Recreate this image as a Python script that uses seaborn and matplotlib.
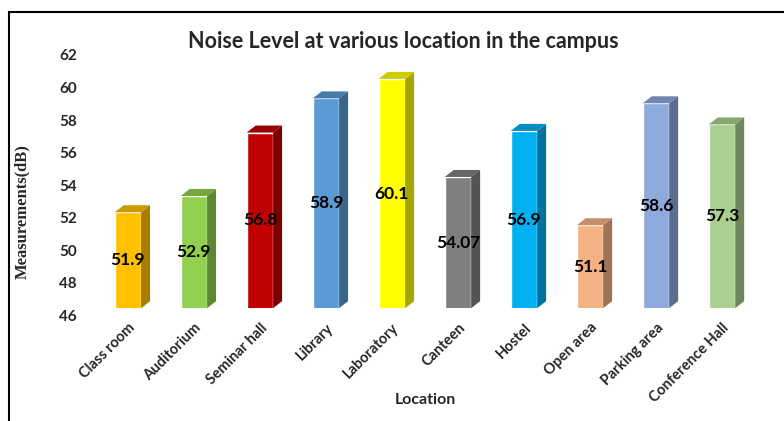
import matplotlib
matplotlib.use("Agg")
import matplotlib.pyplot as plt
import matplotlib.transforms as mtransforms
from matplotlib.patches import Polygon, Rectangle
from matplotlib.colors import to_rgb
import seaborn as sns
import pandas as pd

# data
locations = ['Class room', 'Auditorium', 'Seminar hall', 'Library', 'Laboratory',
             'Canteen', 'Hostel', 'Open area', 'Parking area', 'Conference Hall']
noise_db = [51.9, 52.9, 56.8, 58.9, 60.1, 54.07, 56.9, 51.1, 58.6, 57.3]
value_labels = ['51.9', '52.9', '56.8', '58.9', '60.1', '54.07', '56.9', '51.1', '58.6', '57.3']
bar_colors = ['#FFC000', '#92D050', '#C00000', '#5B9BD5', '#FFFF00',
              '#7F7F7F', '#00B0F0', '#F4B183', '#8EA9DB', '#A9D08E']
y_ticks = [46, 48, 50, 52, 54, 56, 58, 60, 62]

df = pd.DataFrame({'Location': locations, 'Noise': noise_db})

sns.set_style('white')
plt.rcParams['font.family'] = ['Lato', 'DejaVu Sans']

fig = plt.figure(figsize=(7.84, 4.21), dpi=100)
ax = fig.add_axes([0.121, 0.268, 0.842, 0.618])

sns.barplot(data=df, x='Location', y='Noise', hue='Location',
            palette=dict(zip(locations, bar_colors)), saturation=1,
            width=0.4, legend=False, ax=ax)

ax.set_ylim(46, 62)
ax.set_xlim(-0.5, 9.5)
y0 = ax.get_ylim()[0]


def shade(c, f):
    r, g, b = to_rgb(c)
    return (r * f, g * f, b * f)


# fake Excel-style 3D depth: side and top faces
dx, dy = 0.136, 0.43
for bar in ax.patches:
    x0 = bar.get_x()
    x1 = x0 + bar.get_width()
    v = bar.get_height()
    col = bar.get_facecolor()
    side = Polygon([(x1, y0), (x1, v), (x1 + dx, v + dy), (x1 + dx, y0 + dy)],
                   closed=True, facecolor=shade(col, 0.65), edgecolor='none')
    top = Polygon([(x0, v), (x1, v), (x1 + dx, v + dy), (x0 + dx, v + dy)],
                  closed=True, facecolor=shade(col, 0.8), edgecolor='none')
    ax.add_patch(side)
    ax.add_patch(top)

# value labels in the middle of each bar
for i, (v, txt) in enumerate(zip(noise_db, value_labels)):
    ax.text(i, (y0 + v) / 2, txt, ha='center', va='center',
            fontsize=12.5, fontweight='bold', color='black')

sns.despine(ax=ax, left=True, bottom=True)
ax.set_yticks(y_ticks)
ax.set_yticklabels([str(t) for t in y_ticks], fontsize=11, fontweight='bold')
ax.tick_params(axis='y', length=0, pad=13)
ax.tick_params(axis='x', length=0, pad=9)
ax.set_xticks(range(len(locations)))
ax.set_xticklabels(locations, rotation=45, ha='right', rotation_mode='anchor',
                   fontsize=10.5, fontweight='bold')

# Excel draws the floor a little below the bars
shift = mtransforms.ScaledTranslation(0, -0.07, fig.dpi_scale_trans)
for lbl in ax.get_yticklabels():
    lbl.set_transform(lbl.get_transform() + shift)

ax.set_ylabel('Measurements(dB)', fontfamily='Liberation Serif',
              fontweight='bold', fontsize=12)
ax.yaxis.set_label_coords(-0.098, 0.373)
ax.set_xlabel('Location', fontsize=11.5, fontweight='bold')
ax.xaxis.set_label_coords(0.5, -0.327)

fig.text(0.514, 1 - 42 / 421, 'Noise Level at various location in the campus',
         ha='center', va='center', fontsize=15.5, fontweight='bold')

fig.patches.append(Rectangle((9 / 784, -0.05), 1.1, 1 - 12 / 421 + 0.05,
                             transform=fig.transFigure, fill=False,
                             edgecolor='black', linewidth=1.5))

fig.savefig('out.png', dpi=100)
